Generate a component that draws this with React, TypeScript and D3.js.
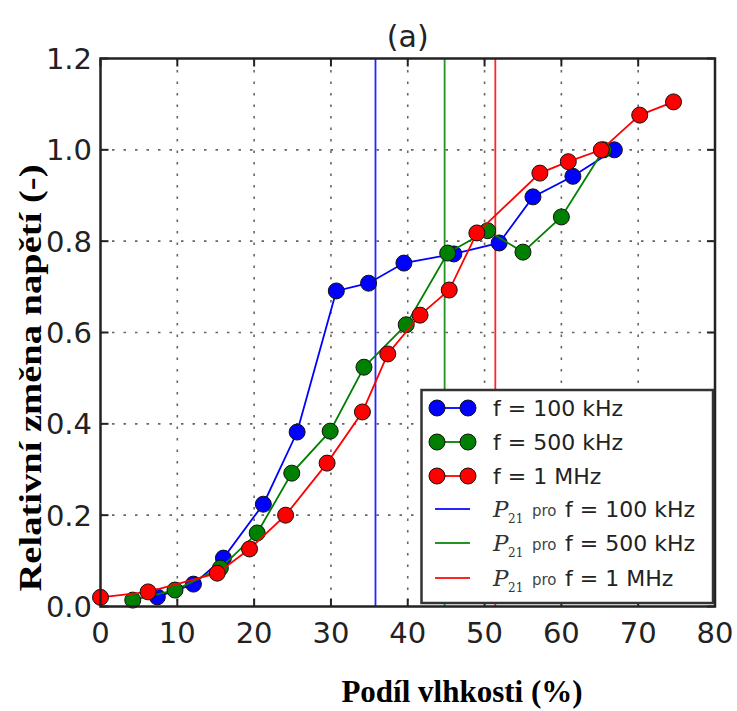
import React from "react";
import * as d3 from "d3";

// Moisture content (%) and relative voltage change for each frequency
const blueX = [7.4, 12.1, 16.0, 21.2, 25.6, 30.7, 34.9, 39.5, 46.0, 51.9, 56.3, 61.5, 66.9];
const blueY = [0.021, 0.049, 0.106, 0.224, 0.382, 0.691, 0.708, 0.752, 0.772, 0.796, 0.897, 0.942, 1.0];

const greenX = [4.2, 9.7, 15.6, 20.4, 24.9, 29.9, 34.3, 39.8, 45.2, 50.4, 55.0, 60.0, 65.5];
const greenY = [0.014, 0.036, 0.084, 0.161, 0.292, 0.384, 0.524, 0.617, 0.774, 0.823, 0.776, 0.853, 1.0];

const redX = [0, 6.2, 15.2, 19.4, 24.1, 29.5, 34.1, 37.4, 41.6, 45.4, 49.0, 57.2, 60.9, 65.2, 70.2, 74.6];
const redY = [0.02, 0.032, 0.073, 0.126, 0.2, 0.314, 0.426, 0.553, 0.638, 0.693, 0.818, 0.949, 0.974, 1.0, 1.076, 1.105];

// P21 threshold per frequency
const thresholdX = [35.8, 44.8, 51.4];

const seriesNames = ["f = 100 kHz", "f = 500 kHz", "f = 1 MHz"];
const colors = ["#0000ff", "#008000", "#ff0000"];

const xTicks = [0, 10, 20, 30, 40, 50, 60, 70, 80];
const yTicks = [0.0, 0.2, 0.4, 0.6, 0.8, 1.0, 1.2];

const W = 737;
const H = 711;
const left = 100.5;
const right = 715;
const top = 58.5;
const bottom = 606.5;

export default function App() {
  const x = d3.scaleLinear().domain([0, 80]).range([left, right]);
  const y = d3.scaleLinear().domain([0, 1.2]).range([bottom, top]);

  const series = [
    { xs: blueX, ys: blueY },
    { xs: greenX, ys: greenY },
    { xs: redX, ys: redY },
  ];

  const line = d3
    .line<[number, number]>()
    .x((d) => x(d[0]))
    .y((d) => y(d[1]));

  const tickFont = "'DejaVu Sans', sans-serif";
  const gridProps = {
    stroke: "#666",
    strokeWidth: 1.6,
    strokeDasharray: "2.5,9",
  };
  const markerR = 8;

  const legX = 421.5;
  const legY = 390;
  const legW = 291.5;
  const legH = 213;
  const rowY = [408, 442, 476, 509, 543, 578];

  return (
    <svg
      width={W}
      height={H}
      style={{ position: "absolute", left: 0, top: 0, background: "#fff" }}
    >
      <rect x={0} y={0} width={W} height={H} fill="#fff" />

      {/* grid */}
      {xTicks
        .filter((t) => t > 0 && t < 80)
        .map((t) => (
          <line key={"gx" + t} x1={x(t)} x2={x(t)} y1={top} y2={bottom} {...gridProps} />
        ))}
      {yTicks
        .filter((t) => t > 0 && t < 1.2)
        .map((t) => (
          <line key={"gy" + t} x1={left} x2={right} y1={y(t)} y2={y(t)} {...gridProps} />
        ))}

      {/* tick marks on all four sides, pointing inward */}
      {xTicks.map((t) => (
        <g key={"tx" + t}>
          <line x1={x(t)} x2={x(t)} y1={bottom} y2={bottom - 8} stroke="#222" strokeWidth={2} />
          <line x1={x(t)} x2={x(t)} y1={top} y2={top + 8} stroke="#222" strokeWidth={2} />
        </g>
      ))}
      {yTicks.map((t) => (
        <g key={"ty" + t}>
          <line x1={left} x2={left + 8} y1={y(t)} y2={y(t)} stroke="#222" strokeWidth={2} />
          <line x1={right} x2={right - 8} y1={y(t)} y2={y(t)} stroke="#222" strokeWidth={2} />
        </g>
      ))}

      {/* P21 thresholds */}
      {thresholdX.map((v, i) => (
        <line
          key={"th" + i}
          x1={x(v)}
          x2={x(v)}
          y1={top}
          y2={bottom}
          stroke={colors[i]}
          strokeWidth={1.8}
          opacity={0.85}
        />
      ))}

      {/* measured series */}
      {series.map((s, i) => {
        const pts: [number, number][] = s.xs.map((v, k) => [v, s.ys[k]]);
        return (
          <g key={"s" + i}>
            <path d={line(pts) || ""} fill="none" stroke={colors[i]} strokeWidth={1.8} />
            {pts.map((p, k) => (
              <circle
                key={k}
                cx={x(p[0])}
                cy={y(p[1])}
                r={markerR}
                fill={colors[i]}
                stroke="#111"
                strokeWidth={1}
              />
            ))}
          </g>
        );
      })}

      {/* frame */}
      <rect
        x={left}
        y={top}
        width={right - left}
        height={bottom - top}
        fill="none"
        stroke="#222"
        strokeWidth={2.5}
      />

      {/* tick labels */}
      {xTicks.map((t) => (
        <text
          key={"lx" + t}
          x={x(t)}
          y={643}
          textAnchor="middle"
          fontFamily={tickFont}
          fontSize={29}
          fill="#222"
        >
          {t}
        </text>
      ))}
      {yTicks.map((t) => (
        <text
          key={"ly" + t}
          x={92}
          y={y(t) + 10.5}
          textAnchor="end"
          fontFamily={tickFont}
          fontSize={29}
          fill="#222"
        >
          {t.toFixed(1)}
        </text>
      ))}

      {/* title */}
      <text
        x={(left + right) / 2}
        y={47}
        textAnchor="middle"
        fontFamily={tickFont}
        fontSize={30}
        fill="#222"
      >
        (a)
      </text>

      {/* axis labels */}
      <text
        x={462}
        y={702}
        textAnchor="middle"
        fontFamily="'Liberation Serif', 'Times New Roman', serif"
        fontWeight="bold"
        fontSize={31}
        fill="#000"
      >
        Podíl vlhkosti (%)
      </text>
      <text
        transform="translate(41,378) rotate(-90)"
        textAnchor="middle"
        fontFamily="'Liberation Serif', 'Times New Roman', serif"
        fontWeight="bold"
        fontSize={31}
        textLength={427}
        lengthAdjust="spacingAndGlyphs"
        fill="#000"
      >
        Relativní změna napětí (-)
      </text>

      {/* legend */}
      <rect
        x={legX}
        y={legY}
        width={legW}
        height={legH}
        fill="#fff"
        stroke="#333"
        strokeWidth={2.5}
      />
      {seriesNames.map((name, i) => (
        <g key={"lg" + i}>
          <line x1={437} x2={468} y1={rowY[i]} y2={rowY[i]} stroke={colors[i]} strokeWidth={1.8} />
          <circle cx={437} cy={rowY[i]} r={markerR} fill={colors[i]} stroke="#111" strokeWidth={1} />
          <circle cx={468} cy={rowY[i]} r={markerR} fill={colors[i]} stroke="#111" strokeWidth={1} />
          <text x={493} y={rowY[i] + 8} fontFamily={tickFont} fontSize={22} fill="#222">
            {name}
          </text>
        </g>
      ))}
      {seriesNames.map((name, i) => {
        const ry = rowY[i + 3];
        return (
          <g key={"lt" + i}>
            <line x1={435} x2={470} y1={ry} y2={ry} stroke={colors[i]} strokeWidth={2.2} opacity={0.85} />
            <text
              x={493}
              y={ry + 8}
              fontFamily="'DejaVu Serif', 'Liberation Serif', serif"
              fontStyle="italic"
              fontSize={23}
              fill="#333"
            >
              P
            </text>
            <text
              x={508}
              y={ry + 14}
              fontFamily="'DejaVu Serif', 'Liberation Serif', serif"
              fontSize={12}
              fill="#333"
            >
              21
            </text>
            <text x={532} y={ry + 7} fontFamily={tickFont} fontSize={15} fill="#444">
              pro
            </text>
            <text x={565} y={ry + 8} fontFamily={tickFont} fontSize={22} fill="#222">
              {name}
            </text>
          </g>
        );
      })}
    </svg>
  );
}
